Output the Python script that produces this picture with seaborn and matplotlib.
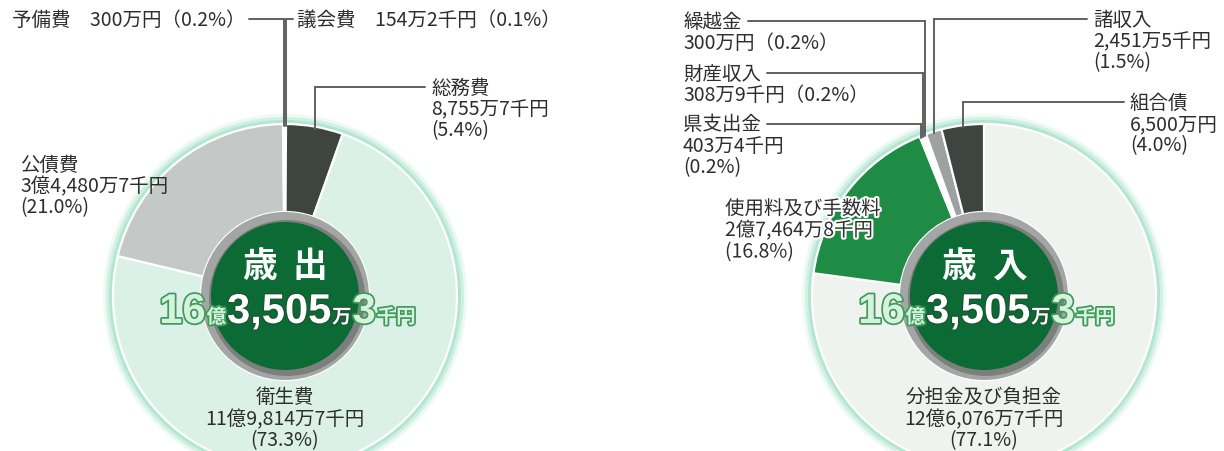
import matplotlib
matplotlib.use('Agg')
import matplotlib.pyplot as plt
import matplotlib.patheffects as pe
from matplotlib.patches import Circle
import numpy as np
import seaborn as sns

# 歳出 (units: 万円)
out_labels = ['議会費', '総務費', '衛生費', '公債費', '予備費']
out_values = [154.2, 8755.7, 119814.7, 34480.7, 300.0]
out_amounts = ['154万2千円', '8,755万7千円', '11億9,814万7千円', '3億4,480万7千円', '300万円']
out_pcts = ['0.1%', '5.4%', '73.3%', '21.0%', '0.2%']
out_colors = ['#eceeed', '#3e4541', '#dbf1e7', '#c4c8c6', '#f6f7f6']

# 歳入 (units: 万円)
in_labels = ['分担金及び負担金', '使用料及び手数料', '県支出金', '財産収入', '繰越金', '諸収入', '組合債']
in_values = [126076.7, 27464.8, 403.4, 308.9, 300.0, 2451.5, 6500.0]
in_amounts = ['12億6,076万7千円', '2億7,464万8千円', '403万4千円', '308万9千円', '300万円', '2,451万5千円', '6,500万円']
in_pcts = ['77.1%', '16.8%', '0.2%', '0.2%', '0.2%', '1.5%', '4.0%']
in_colors = ['#eef3f0', '#1e8c45', '#e3ebe5', '#cdd5d0', '#eaeeeb', '#9da19f', '#3e4541']

total_parts = ['16', '億', '3,505', '万', '3', '千円']
total_kinds = ['big_o', 'small_o', 'big_w', 'small_w', 'big_o', 'small_o']

sns.set_theme(style='white')
plt.rcParams['font.family'] = ['Noto Sans CJK JP', 'DejaVu Sans']

W, H = 1224, 452
R, R_IN = 172, 84
fig = plt.figure(figsize=(W / 100, H / 100), dpi=100)
ax = fig.add_axes([0, 0, 1, 1])
renderer = fig.canvas.get_renderer()

TXT = '#2e2e2e'
LINE = '#5f615f'
FS = 14


def py(y):
    return H - y


def donut(values, colors, cx, cy):
    for r, a in [(R + 10, 0.18), (R + 7, 0.35), (R + 4, 0.6)]:
        ax.add_patch(Circle((cx, py(cy)), r, color='#9fe0c6', alpha=a, lw=0, zorder=0))
    wedges, _ = ax.pie(values, colors=colors, startangle=90, counterclock=False,
                       radius=R, center=(cx, py(cy)),
                       wedgeprops=dict(width=R - R_IN, edgecolor='white', linewidth=1.6))
    ax.add_patch(Circle((cx, py(cy)), R_IN, color='#a3a6a4', lw=0, zorder=3))
    ax.add_patch(Circle((cx + 2, py(cy) - 2), R_IN - 6, color='#7c807d', lw=0, zorder=3))
    ax.add_patch(Circle((cx, py(cy)), R_IN - 10, color='#0c6a35', lw=0, zorder=4))
    return wedges


def edge_point(w, cx, cy, inset=2):
    mid = np.deg2rad((w.theta1 + w.theta2) / 2)
    return cx + R * np.cos(mid), py(cy) + (R - inset) * np.sin(mid)


def lines_text(x, y0, lines, ha='left', stroke=False, step=21.5):
    texts = []
    for i, s in enumerate(lines):
        t = ax.text(x, py(y0 + i * step), s, ha=ha, va='center', fontsize=FS, color=TXT, zorder=6)
        if stroke:
            t.set_path_effects([pe.withStroke(linewidth=3, foreground='white')])
        texts.append(t)
    return texts


def leader(t, side, y, w, cx, cy, gap=6):
    bb = t.get_window_extent(renderer)
    x0 = bb.x1 + gap if side == 'left' else bb.x0 - gap
    ex, ey = edge_point(w, cx, cy)
    ax.plot([x0, ex, ex], [py(y), py(y), ey], color=LINE, lw=1.4, zorder=5,
            solid_joinstyle='miter')


def center_text(cx, cy, title):
    for ch, dx in zip(title, (-25, 25)):
        ax.text(cx + dx, py(cy - 31), ch, ha='center', va='center', fontsize=25,
                fontweight='bold', color='white', zorder=7)
    texts = []
    for s, k in zip(total_parts, total_kinds):
        big = k.startswith('big')
        t = ax.text(0, py(cy + 27), s, ha='left', va='baseline',
                    fontsize=30 if big else 14, fontweight='bold', zorder=7,
                    family=['Liberation Sans', 'DejaVu Sans'] if big else ['Noto Sans CJK JP'])
        if k.endswith('o'):
            t.set_color('#d6f2dc')
            t.set_path_effects([pe.withStroke(linewidth=2.5, foreground='#3f9a5c')])
        else:
            t.set_color('white')
            t.set_path_effects([pe.withStroke(linewidth=1.5, foreground='#1f4d30')])
        texts.append(t)
    widths = [t.get_window_extent(renderer).width for t in texts]
    x = cx - sum(widths) / 2
    for t, wdt in zip(texts, widths):
        t.set_x(x)
        x += wdt + 1


LCX, LCY = 285, 297
RCX, RCY = 984, 297
lw_ = donut(out_values, out_colors, LCX, LCY)
rw = donut(in_values, in_colors, RCX, RCY)
ax.set_xlim(0, W)
ax.set_ylim(0, H)
ax.set_aspect('equal')
ax.axis('off')

# ---- 歳出 labels ----
t = lines_text(12, 20, [f'{out_labels[4]}　{out_amounts[4]}（{out_pcts[4]}）'])[0]
leader(t, 'left', 20, lw_[4], LCX, LCY, gap=3)
t = lines_text(297, 20, [f'{out_labels[0]}　{out_amounts[0]}（{out_pcts[0]}）'])[0]
leader(t, 'right', 20, lw_[0], LCX, LCY, gap=4)
t = lines_text(431, 88, [out_labels[1], out_amounts[1], f'({out_pcts[1]})'])[0]
leader(t, 'right', 88, lw_[1], LCX, LCY)
lines_text(20, 165, [out_labels[3], out_amounts[3], f'({out_pcts[3]})'])
lines_text(LCX, 398, [out_labels[2], out_amounts[2], f'({out_pcts[2]})'], ha='center')
center_text(LCX, LCY, '歳出')

# ---- 歳入 labels ----
t = lines_text(683, 22, [in_labels[4], f'{in_amounts[4]}（{in_pcts[4]}）'])[0]
leader(t, 'left', 22, rw[4], RCX, RCY)
t = lines_text(683, 74, [in_labels[3], f'{in_amounts[3]}（{in_pcts[3]}）'])[0]
leader(t, 'left', 74, rw[3], RCX, RCY)
t = lines_text(683, 125, [in_labels[2], in_amounts[2], f'({in_pcts[2]})'])[0]
leader(t, 'left', 125, rw[2], RCX, RCY)
t = lines_text(1093, 20, [in_labels[5], in_amounts[5], f'({in_pcts[5]})'])[0]
leader(t, 'right', 20, rw[5], RCX, RCY)
t = lines_text(1130, 103, [in_labels[6], in_amounts[6], f'({in_pcts[6]})'])[0]
leader(t, 'right', 103, rw[6], RCX, RCY)
lines_text(725, 210, [in_labels[1], in_amounts[1], f'({in_pcts[1]})'], stroke=True)
lines_text(RCX, 398, [in_labels[0], in_amounts[0], f'({in_pcts[0]})'], ha='center')
center_text(RCX, RCY, '歳入')

fig.savefig('out.png', dpi=100, facecolor='white')
